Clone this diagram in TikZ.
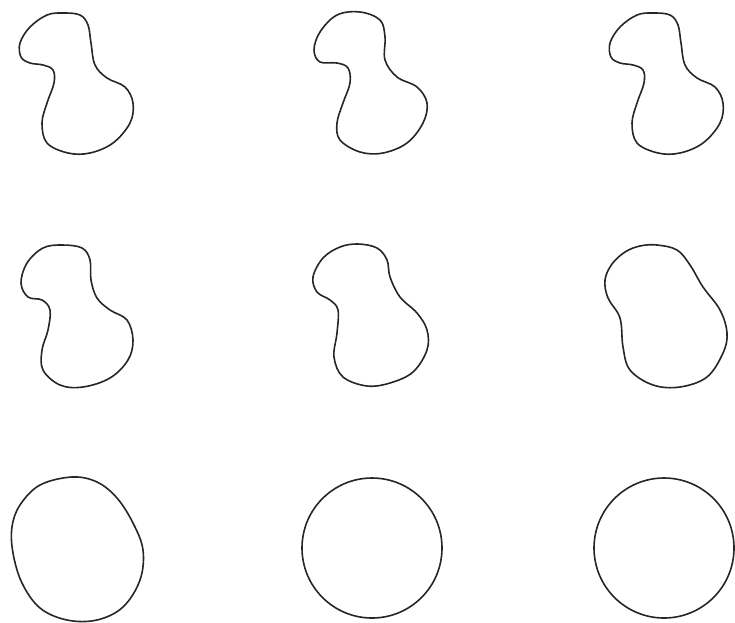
\documentclass[tikz,border=0pt]{standalone}
\begin{document}
\begin{tikzpicture}[x=1pt,y=-1pt,
  blob/.style={draw=black!85,line width=1.6pt,smooth cycle,tension=0.6},
  ring/.style={draw=black!85,line width=1.6pt}]
\useasboundingbox (0,0) rectangle (735,622);
% row 1
\def\shapeA{(63,13) (80,15) (88,25) (91,43) (95,65) (107,78) (125,87) (133,103) (130,123) (113,143) (90,153) (68,153) (47,143) (42,123) (47,103) (54,83) (53,70) (43,65) (30,63) (21,57) (20,43) (30,27) (47,15)}
\draw[blob] plot coordinates {\shapeA};
\draw[blob] plot coordinates {(360,12) (380,20) (385,37) (385,60) (397,77) (417,87) (427,103) (423,123) (407,143) (383,153) (360,152) (340,140) (337,123) (343,103) (350,83) (348,68) (337,63) (320,62) (314,50) (320,32) (337,15)};
\begin{scope}[xshift=590pt]
\draw[blob] plot coordinates {\shapeA};
\end{scope}
% row 2
\draw[blob] plot coordinates {(62,245) (82,248) (90,260) (91,280) (97,298) (110,310) (127,320) (133,340) (128,360) (110,378) (83,387) (60,385) (43,370) (42,350) (48,330) (50,310) (42,300) (28,297) (21,283) (27,263) (43,248)};
\draw[blob] plot coordinates {(358,244) (377,248) (387,260) (390,277) (400,297) (417,313) (427,330) (427,350) (413,372) (390,383) (367,386) (343,377) (334,357) (337,333) (338,310) (330,300) (317,292) (313,277) (323,258) (340,247)};
\draw[blob] plot coordinates {(657,245) (677,250) (690,265) (703,287) (720,310) (727,333) (723,353) (707,377) (680,387) (653,385) (630,370) (623,347) (620,318) (608,298) (605,280) (612,264) (625,252) (640,246)};
% row 3
\draw[blob] plot coordinates {(72,477) (97,482) (117,498) (133,523) (143,550) (140,580) (123,607) (97,620) (67,620) (40,608) (22,583) (13,553) (12,527) (20,505) (40,485)};
\draw[ring] (372,548) circle[radius=70];
\draw[ring] (664,548) circle[radius=70];
\end{tikzpicture}
\end{document}
